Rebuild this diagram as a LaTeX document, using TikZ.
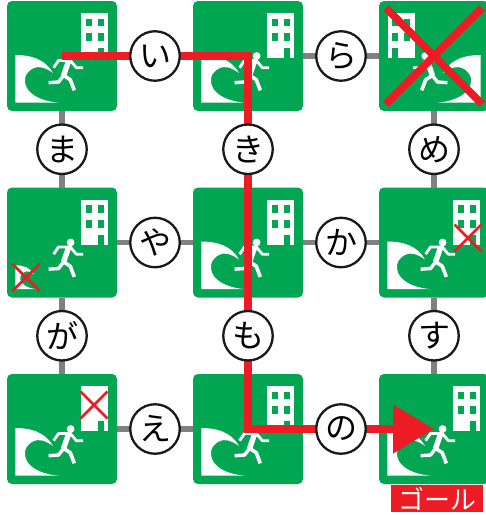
\documentclass[tikz,border=0pt]{standalone}
\usepackage{fontspec}
\newfontfamily\kanafont{Noto Sans CJK JP}
\usetikzlibrary{
	arrows.meta,
	positioning,
	shapes.misc
}
\definecolor{signgreen}{HTML}{00A651}
\definecolor{routered}{HTML}{ED1C24}
\definecolor{linkgray}{HTML}{808080}

\tikzset{
	pics/evacwave/.style={code={
		\fill[white] (8.3,54) .. controls (24,54) and (38,58) .. (46,72)
			.. controls (38,66) and (31,65) .. (27,67)
			.. controls (20,70) and (17,76) .. (18,81)
			.. controls (19,92) and (32,100) .. (52,101.7)
			-- (8.3,101.7) -- cycle;
	}},
	pics/evacbase/.style={code={
		% building and door
		\fill[white] (74.3,12) rectangle (101.3,57);
		\fill[signgreen] (90.6,47) rectangle (96.6,57);
		% runner
		\fill[white] (63.6,55) circle (3.9);
		\draw[white, line width=2.8pt, line join=round] (46.6,66.7) -- (51.6,59.4) -- (63.3,59.4) -- (69.3,66.7) -- (76,66.7);
		\draw[white, line width=5.4pt] (61.6,60) -- (56.6,74.4);
		\draw[white, line width=3.4pt, line join=round] (56.6,74.4) -- (51.6,81) -- (41.6,81.7);
		\draw[white, line width=3.6pt, line join=round] (56.6,74.4) -- (63.3,78.7) -- (67.3,89.4);
	}},
	pics/evacwin/.style={code={
		\foreach \wx in {78.6,90.6} {
			\foreach \wy in {17.7,32.3} {
				\fill[signgreen] (\wx,\wy) rectangle ++(6,7.7);
			}
		}
	}}
}

\begin{document}
\begin{tikzpicture}[
		x=1pt, y=-1pt,
		signbox/.style={fill=signgreen, rounded corners=5pt, minimum size=110pt, inner sep=0pt, outer sep=0pt},
		kana/.style={circle, draw=black!90, fill=white, line width=2.3pt, minimum size=49.5pt, inner sep=0pt, font=\kanafont\fontsize{32}{32}\selectfont},
		link/.style={draw=linkgray, line width=5.6pt},
		route/.style={draw=routered, line width=7.6pt, -{Triangle[length=41pt, width=47pt]}},
		redx/.style={cross out, draw=routered, inner sep=0pt, outer sep=0pt, line width=2.6pt, minimum size=27pt},
		goal/.style={fill=routered, text=white, minimum width=92pt, minimum height=26.5pt, inner sep=0pt, font=\kanafont\fontsize{26}{26}\selectfont}
	]
	\useasboundingbox (0,0) rectangle (486,515);
	\clip (0,0) rectangle (486,515);

	\node[signbox] (s11) at (62,56) {};
	\node[signbox, right=76pt of s11] (s12) {};
	\node[signbox, right=76pt of s12] (s13) {};
	\node[signbox, below=76.5pt of s11] (s21) {};
	\node[signbox, right=76pt of s21] (s22) {};
	\node[signbox, right=76pt of s22] (s23) {};
	\node[signbox, below=76.5pt of s21] (s31) {};
	\node[signbox, right=76pt of s31] (s32) {};
	\node[signbox, right=76pt of s32] (s33) {};

	\foreach \s in {s11,s12,s21,s22,s23,s31,s32,s33}
		\pic at (\s.north west) {evacbase};
	\foreach \s in {s11,s12,s22,s23,s31,s32,s33}
		\pic at (\s.north west) {evacwave};
	\foreach \s in {s11,s12,s21,s22,s23,s32,s33}
		\pic at (\s.north west) {evacwin};
	\pic[xscale=-1] at (s13.north east) {evacbase};
	\pic[xscale=-1] at (s13.north east) {evacwave};
	\pic[xscale=-1] at (s13.north east) {evacwin};
	\pic[scale=.5] at ([xshift=4.15pt,yshift=-50.85pt]s21.north west) {evacwave};

	\node[redx, minimum size=96pt, line width=7.6pt] (x13) at (s13) {};
	\node[redx] (x21) at (26,277.5) {};
	\node[redx] (x23) at (468,238) {};
	\node[redx] (x31) at (94,405) {};

	\foreach \a/\b in {s11/s12,s12/s13,s21/s22,s22/s23,s31/s32,s32/s33,s11/s21,s21/s31,s12/s22,s22/s32,s13/s23,s23/s33}
		\draw[link] (\a) -- (\b);

	\draw[route] (s11.center) -- (s12.center) -- (s32.center) -- (s33.center);

	\path (s11) -- node[kana] (ki) {い} (s12);
	\path (s12) -- node[kana] (kra) {ら} (s13);
	\path (s21) -- node[kana] (kya) {や} (s22);
	\path (s22) -- node[kana] (kka) {か} (s23);
	\path (s31) -- node[kana] (ke) {え} (s32);
	\path (s32) -- node[kana] (kno) {の} (s33);
	\path (s11) -- node[kana] (kma) {ま} (s21);
	\path (s12) -- node[kana] (kki) {き} (s22);
	\path (s13) -- node[kana] (kme) {め} (s23);
	\path (s21) -- node[kana] (kga) {が} (s31);
	\path (s22) -- node[kana] (kmo) {も} (s32);
	\path (s23) -- node[kana] (ksu) {す} (s33);

	\node[goal] (lgoal) at (437,498.5) {ゴール};
\end{tikzpicture}
\end{document}
